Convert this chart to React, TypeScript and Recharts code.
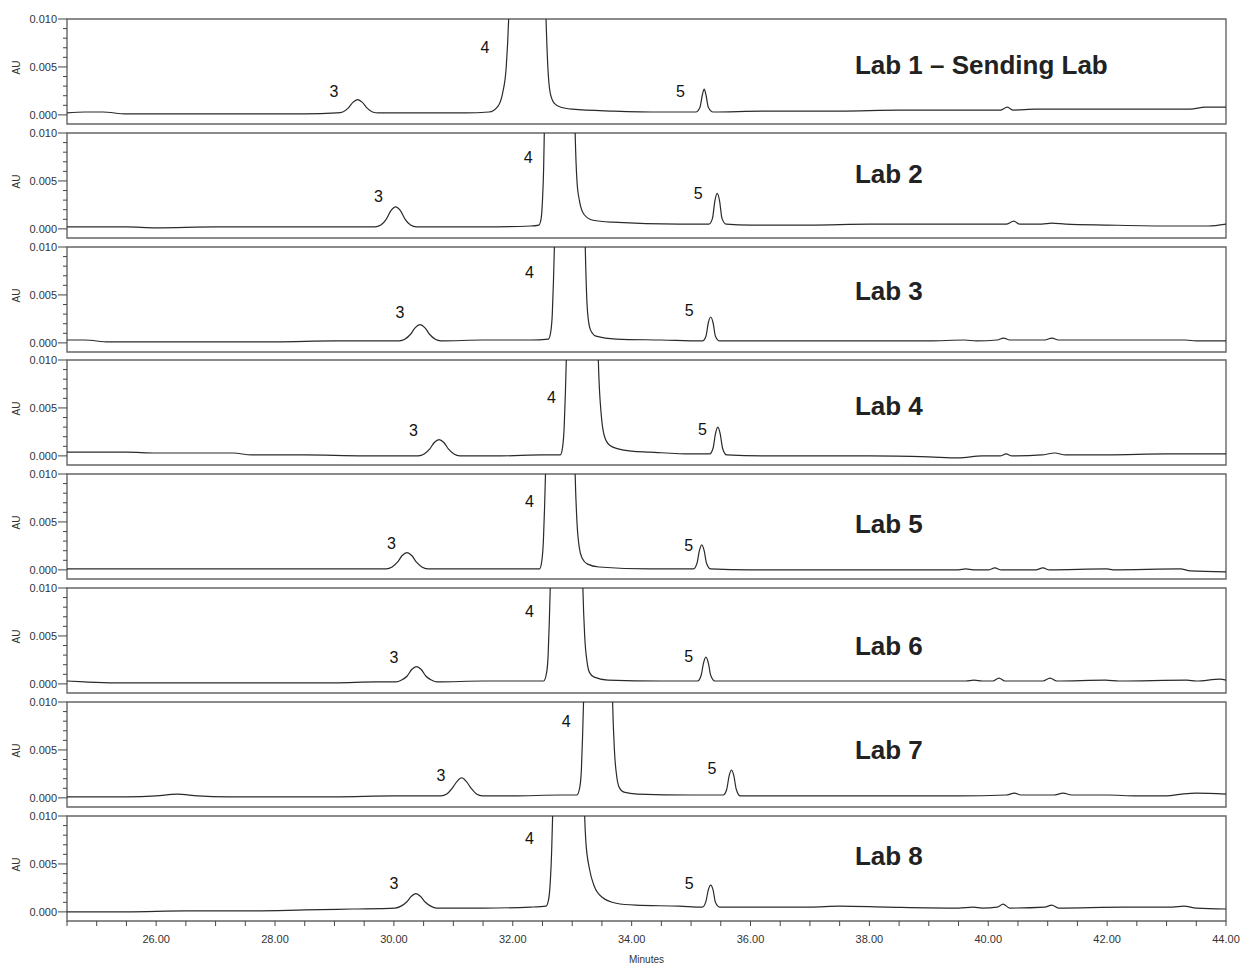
import React from 'react';
import { LineChart, Line, XAxis, YAxis, ReferenceArea, ReferenceDot, Label } from 'recharts';

// chromatogram traces, [minutes, AU]
const lab1Trace: [number, number][] = [
  [24.5, 0.0002], [24.8, 0.0003], [25.1, 0.0003], [25.5, 0.0001], [26.5, 0.0001], [27.5, 0.0001], [28.5, 0.0001],
  [29.04, 0.0002], [29.14, 0.0003], [29.23, 0.0007], [29.31, 0.0013], [29.39, 0.0016], [29.47, 0.0013], [29.55, 0.0007],
  [29.64, 0.0003], [29.74, 0.0002], [30.5, 0.0002], [31.2, 0.0002], [31.6, 0.0003], [31.75, 0.0009], [31.83, 0.0023],
  [31.89, 0.005], [31.93, 0.0099], [31.97, 0.02], [32.1, 0.05], [32.25, 0.06], [32.4, 0.05], [32.52, 0.02],
  [32.56, 0.0099], [32.59, 0.005], [32.63, 0.0023], [32.7, 0.0012], [32.81, 0.0008], [33.0, 0.0006], [33.7, 0.0004],
  [34.5, 0.0003], [35.08, 0.0003], [35.15, 0.0008], [35.19, 0.0021], [35.22, 0.0027], [35.25, 0.0021], [35.29, 0.0008],
  [35.37, 0.0003], [36.2, 0.0004], [37.5, 0.0004], [38.5, 0.0005], [39.5, 0.0005], [40.2, 0.0005], [40.32, 0.0008],
  [40.42, 0.0005], [40.8, 0.0006], [41.5, 0.0006], [42.5, 0.0006], [43.4, 0.0006], [43.65, 0.0008], [44.0, 0.0008],
];

const lab2Trace: [number, number][] = [
  [24.5, 0.0002], [25.5, 0.0002], [26, 0.0001], [27, 0.0002], [28, 0.0002], [29, 0.0002], [29.68, 0.0002],
  [29.78, 0.0004], [29.87, 0.001], [29.95, 0.0019], [30.03, 0.0023], [30.11, 0.0019], [30.19, 0.001], [30.28, 0.0004],
  [30.38, 0.0002], [31.5, 0.0002], [32.3, 0.0003], [32.44, 0.0004], [32.48, 0.0012], [32.5, 0.003], [32.52, 0.0065],
  [32.53, 0.0099], [32.56, 0.02], [32.65, 0.05], [32.79, 0.06], [32.93, 0.05], [33.02, 0.02], [33.05, 0.0099],
  [33.08, 0.005], [33.12, 0.003], [33.2, 0.0015], [33.35, 0.0009], [33.68, 0.0007], [34.8, 0.0005], [35.3, 0.0005],
  [35.36, 0.0011], [35.4, 0.0029], [35.44, 0.0037], [35.48, 0.0029], [35.52, 0.0011], [35.59, 0.0005], [36, 0.0004],
  [37, 0.0004], [38, 0.0005], [39, 0.0005], [40.3, 0.0005], [40.43, 0.0008], [40.53, 0.0005], [40.9, 0.0005],
  [41.07, 0.0006], [41.3, 0.0005], [42.0, 0.0004], [43.1, 0.0003], [43.7, 0.0003], [44.0, 0.0005],
];

const lab3Trace: [number, number][] = [
  [24.5, 0.0003], [24.8, 0.0003], [25.2, 0.0001], [26, 0.0001], [27, 0.0001], [28, 0.0001], [29, 0.0002],
  [30.09, 0.0002], [30.19, 0.0004], [30.28, 0.0009], [30.36, 0.0016], [30.44, 0.0019], [30.52, 0.0016], [30.6, 0.0009],
  [30.69, 0.0004], [30.79, 0.0002], [31.5, 0.0003], [32.3, 0.0003], [32.6, 0.0004], [32.64, 0.0012], [32.665, 0.003],
  [32.685, 0.0065], [32.7, 0.0099], [32.73, 0.02], [32.82, 0.05], [32.96, 0.06], [33.1, 0.05], [33.19, 0.02],
  [33.22, 0.0099], [33.25, 0.004], [33.29, 0.0017], [33.34, 0.001], [33.4, 0.0007], [33.74, 0.0004], [34.5, 0.0003],
  [35.19, 0.0002], [35.25, 0.0007], [35.29, 0.0021], [35.33, 0.0027], [35.37, 0.0021], [35.41, 0.0007], [35.48, 0.0002],
  [36, 0.0002], [37, 0.0002], [38, 0.0002], [39, 0.0002], [39.6, 0.0003], [39.8, 0.0002], [40.15, 0.0003],
  [40.26, 0.0005], [40.36, 0.0003], [40.95, 0.0003], [41.07, 0.0005], [41.18, 0.0003], [42.14, 0.0003],
  [43.32, 0.0003], [43.5, 0.0002], [44.0, 0.0002],
];

const lab4Trace: [number, number][] = [
  [24.5, 0.0004], [25, 0.0004], [25.5, 0.0004], [26, 0.0003], [26.5, 0.0003], [27, 0.0003], [27.3, 0.0003],
  [27.6, 0.0001], [28.5, 0.0001], [29.5, 0.0], [30.41, 0.0], [30.51, 0.0002], [30.6, 0.0007], [30.68, 0.0014],
  [30.76, 0.0017], [30.84, 0.0014], [30.92, 0.0007], [31.01, 0.0002], [31.11, 0.0], [31.8, 0.0], [32.5, 0.0001],
  [32.8, 0.0001], [32.84, 0.001], [32.865, 0.003], [32.885, 0.0065], [32.9, 0.0099], [32.93, 0.02], [33.02, 0.05],
  [33.17, 0.06], [33.32, 0.05], [33.41, 0.02], [33.44, 0.0099], [33.49, 0.0042], [33.54, 0.0021], [33.63, 0.0011],
  [33.79, 0.0007], [34.0, 0.0005], [34.3, 0.0004], [35.0, 0.0002], [35.31, 0.0002], [35.37, 0.0008], [35.41, 0.0023],
  [35.45, 0.003], [35.49, 0.0023], [35.53, 0.0008], [35.6, 0.0001], [36.2, 0.0], [37, 0.0], [38, 0.0], [39, -0.0001],
  [39.5, -0.0002], [39.9, 0.0], [40.2, 0.0], [40.3, 0.0002], [40.4, 0.0], [40.9, 0.0001], [41.12, 0.0003],
  [41.3, 0.0001], [42, 0.0001], [43, 0.0002], [43.5, 0.0002], [44.0, 0.0002],
];

const lab5Trace: [number, number][] = [
  [24.5, 0.0001], [26, 0.0001], [27, 0.0001], [28, 0.0001], [29, 0.0001], [29.87, 0.0001], [29.97, 0.0003],
  [30.06, 0.0008], [30.14, 0.0015], [30.22, 0.0018], [30.3, 0.0015], [30.38, 0.0008], [30.47, 0.0003], [30.57, 0.0001],
  [31.5, 0.0001], [32.3, 0.0001], [32.45, 0.0001], [32.49, 0.001], [32.515, 0.003], [32.535, 0.0065], [32.55, 0.0099],
  [32.58, 0.02], [32.67, 0.05], [32.8, 0.06], [32.93, 0.05], [33.02, 0.02], [33.05, 0.0099], [33.08, 0.005],
  [33.12, 0.0023], [33.17, 0.0012], [33.26, 0.0006], [33.45, 0.0003], [34.3, 0.0001], [35.04, 0.0001], [35.1, 0.0007],
  [35.14, 0.002], [35.18, 0.0026], [35.22, 0.002], [35.26, 0.0007], [35.33, 0.0001], [36, 0.0], [37, 0.0], [38, 0.0],
  [39, 0.0], [39.5, 0.0], [39.62, 0.0001], [39.75, 0.0], [40.0, 0.0], [40.11, 0.0002], [40.22, 0.0], [40.8, 0.0],
  [40.92, 0.0002], [41.03, 0.0], [42.0, 0.0001], [42.1, 0.0], [43.23, 0.0001], [43.4, -0.0001], [44.0, -0.0002],
];

const lab6Trace: [number, number][] = [
  [24.5, 0.0003], [24.8, 0.0002], [25.3, 0.0001], [26, 0.0001], [27, 0.0001], [28, 0.0001], [29, 0.0001],
  [29.7, 0.0002], [30.03, 0.0002], [30.13, 0.0004], [30.22, 0.0008], [30.3, 0.0015], [30.38, 0.0018], [30.46, 0.0015],
  [30.54, 0.0008], [30.63, 0.0004], [30.73, 0.0002], [31.5, 0.0003], [32.3, 0.0003], [32.52, 0.0003], [32.57, 0.0012],
  [32.595, 0.003], [32.615, 0.0065], [32.63, 0.0099], [32.66, 0.02], [32.76, 0.05], [32.9, 0.06], [33.05, 0.05],
  [33.15, 0.02], [33.18, 0.0099], [33.21, 0.005], [33.25, 0.0023], [33.29, 0.0012], [33.37, 0.0007], [33.6, 0.0004],
  [34.5, 0.0003], [35.11, 0.0003], [35.17, 0.0009], [35.21, 0.0022], [35.25, 0.0028], [35.29, 0.0022], [35.33, 0.0009],
  [35.4, 0.0003], [36, 0.0003], [37, 0.0003], [38, 0.0003], [39, 0.0003], [39.62, 0.0003], [39.76, 0.0004],
  [39.9, 0.0003], [40.08, 0.0003], [40.18, 0.0006], [40.28, 0.0003], [40.92, 0.0003], [41.04, 0.0006], [41.15, 0.0003],
  [41.97, 0.0004], [42.2, 0.0003], [43.34, 0.0004], [43.5, 0.0003], [43.9, 0.0005], [44.0, 0.0004],
];

const lab7Trace: [number, number][] = [
  [24.5, 0.0001], [25.5, 0.0001], [26.0, 0.0002], [26.35, 0.0004], [26.7, 0.0002], [27.2, 0.0001], [28, 0.0001],
  [29, 0.0001], [30, 0.0002], [30.79, 0.0002], [30.89, 0.0004], [30.98, 0.001], [31.06, 0.0017], [31.14, 0.0021],
  [31.22, 0.0017], [31.3, 0.001], [31.39, 0.0004], [31.49, 0.0002], [32, 0.0002], [32.8, 0.0003], [33.08, 0.0003],
  [33.13, 0.0012], [33.155, 0.003], [33.175, 0.0065], [33.19, 0.0099], [33.22, 0.02], [33.31, 0.05], [33.44, 0.06],
  [33.57, 0.05], [33.65, 0.02], [33.68, 0.0099], [33.71, 0.005], [33.75, 0.0022], [33.79, 0.0011], [33.87, 0.0006],
  [34.1, 0.0004], [35.0, 0.0003], [35.54, 0.0003], [35.6, 0.0009], [35.64, 0.0023], [35.68, 0.0029], [35.72, 0.0023],
  [35.76, 0.0009], [35.83, 0.0002], [36.5, 0.0002], [37.5, 0.0002], [38.5, 0.0002], [39.5, 0.0002], [40.3, 0.0003],
  [40.44, 0.0005], [40.55, 0.0003], [41.1, 0.0003], [41.26, 0.0005], [41.4, 0.0003], [42.0, 0.0003], [42.5, 0.0002],
  [43.0, 0.0002], [43.26, 0.0004], [43.5, 0.0005], [44.0, 0.0004],
];

const lab8Trace: [number, number][] = [
  [24.5, 0.0], [25.5, 0.0], [26.5, 0.0001], [27.5, 0.0001], [28.5, 0.0002], [29.3, 0.0003], [30.02, 0.0004],
  [30.12, 0.0006], [30.21, 0.001], [30.29, 0.0016], [30.37, 0.0019], [30.45, 0.0016], [30.53, 0.001], [30.62, 0.0006],
  [30.72, 0.0004], [31.5, 0.0004], [32.3, 0.0005], [32.56, 0.0006], [32.6, 0.0012], [32.63, 0.003], [32.655, 0.0065],
  [32.67, 0.0099], [32.7, 0.02], [32.8, 0.05], [32.94, 0.06], [33.08, 0.05], [33.18, 0.02], [33.21, 0.0099],
  [33.23, 0.0073], [33.29, 0.0045], [33.37, 0.0027], [33.51, 0.0015], [33.74, 0.0009], [34.07, 0.0007],
  [34.8, 0.0006], [35.19, 0.0005], [35.25, 0.0011], [35.29, 0.0023], [35.33, 0.0028], [35.37, 0.0023], [35.41, 0.001],
  [35.48, 0.0005], [36, 0.0005], [37, 0.0005], [37.5, 0.0006], [38.3, 0.0005], [39.5, 0.0004], [39.75, 0.0005],
  [39.9, 0.0004], [40.15, 0.0005], [40.25, 0.0008], [40.36, 0.0004], [40.95, 0.0005], [41.07, 0.0007], [41.18, 0.0004],
  [42.28, 0.0005], [43.1, 0.0005], [43.29, 0.0006], [43.5, 0.0004], [44.0, 0.0003],
];

// peak number tags: [text, minutes, AU] of the tag's centre
const lab1Tags: [string, number, number][] = [['3', 28.99, 0.0025], ['4', 31.53, 0.007], ['5', 34.82, 0.0025]];
const lab2Tags: [string, number, number][] = [['3', 29.74, 0.0034], ['4', 32.26, 0.0075], ['5', 35.12, 0.0037]];
const lab3Tags: [string, number, number][] = [['3', 30.1, 0.0032], ['4', 32.28, 0.0074], ['5', 34.97, 0.0034]];
const lab4Tags: [string, number, number][] = [['3', 30.33, 0.0027], ['4', 32.65, 0.0061], ['5', 35.19, 0.0028]];
const lab5Tags: [string, number, number][] = [['3', 29.96, 0.0028], ['4', 32.28, 0.0071], ['5', 34.96, 0.0026]];
const lab6Tags: [string, number, number][] = [['3', 30.0, 0.0028], ['4', 32.28, 0.0076], ['5', 34.96, 0.0029]];
const lab7Tags: [string, number, number][] = [['3', 30.79, 0.0024], ['4', 32.9, 0.008], ['5', 35.35, 0.0031]];
const lab8Tags: [string, number, number][] = [['3', 30.0, 0.003], ['4', 32.28, 0.0077], ['5', 34.97, 0.003]];

const labNames = ['Lab 1 – Sending Lab', 'Lab 2', 'Lab 3', 'Lab 4', 'Lab 5', 'Lab 6', 'Lab 7', 'Lab 8'];
const nameLevels = [0.0052, 0.0057, 0.0054, 0.0052, 0.0048, 0.004, 0.005, 0.0059];
const nameStart = 37.74;

const xTicks = [
  24.5, 25, 25.5, 26, 26.5, 27, 27.5, 28, 28.5, 29, 29.5, 30, 30.5, 31, 31.5, 32, 32.5, 33, 33.5, 34,
  34.5, 35, 35.5, 36, 36.5, 37, 37.5, 38, 38.5, 39, 39.5, 40, 40.5, 41, 41.5, 42, 42.5, 43, 43.5, 44,
];
const xLabelled = [26, 28, 30, 32, 34, 36, 38, 40, 42, 44];
const yTicks = [0, 0.001, 0.002, 0.003, 0.004, 0.005, 0.006, 0.007, 0.008, 0.009, 0.01];
const yLabelled = [0, 0.005, 0.01];

const traces = [lab1Trace, lab2Trace, lab3Trace, lab4Trace, lab5Trace, lab6Trace, lab7Trace, lab8Trace];
const tags = [lab1Tags, lab2Tags, lab3Tags, lab4Tags, lab5Tags, lab6Tags, lab7Tags, lab8Tags];

const FONT = '"Liberation Sans", Arial, Helvetica, sans-serif';
const W = 1243;
const PLOT_TOP = 19;
const PITCH = 113.8;
const PLOT_H = 105;
const PAD = 10;
const X_DOMAIN: [number, number] = [24.5, 44];
const Y_DOMAIN: [number, number] = [-0.00095, 0.01];

const YTick = (props: any) => {
  const { x, y, payload } = props;
  const major = yLabelled.includes(payload.value);
  return (
    <g>
      <line x1={x - (major ? 9 : 4)} x2={x} y1={y} y2={y} stroke="#444" strokeWidth={1} />
      {major && (
        <text x={x - 10} y={y} dy={4} textAnchor="end" fontSize={11} fill="#333" fontFamily={FONT}>
          {payload.value.toFixed(3)}
        </text>
      )}
    </g>
  );
};

const XTick = (props: any) => {
  const { x, y, payload } = props;
  const major = xLabelled.includes(payload.value);
  return (
    <g>
      <line x1={x} x2={x} y1={y} y2={y + 5} stroke="#444" strokeWidth={1} />
      {major && (
        <text x={x} y={y + 22} textAnchor="middle" fontSize={11} fill="#333" fontFamily={FONT}>
          {payload.value.toFixed(2)}
        </text>
      )}
    </g>
  );
};

const AuLabel = (props: any) => {
  const { viewBox } = props;
  const x = viewBox.x + 16;
  const y = viewBox.y + viewBox.height / 2 - 4;
  return (
    <text x={x} y={y} transform={`rotate(-90, ${x}, ${y})`} textAnchor="middle" dy={4} fontSize={10} fill="#333" fontFamily={FONT}>
      AU
    </text>
  );
};

const Panel = ({ index }: { index: number }) => {
  const last = index === traces.length - 1;
  const data = traces[index].map(([t, v]) => ({ t, v }));
  const axisH = last ? 46 : 0;
  const bottom = last ? 0 : 6;
  const top = Math.round(PLOT_TOP + index * PITCH) - PAD;

  return (
    <div style={{ position: 'absolute', left: 0, top }}>
      <LineChart width={W} height={PAD + PLOT_H + axisH + bottom} data={data} margin={{ top: PAD, right: 17, bottom, left: 0 }}>
        <XAxis
          dataKey="t"
          type="number"
          domain={X_DOMAIN}
          allowDataOverflow
          hide={!last}
          height={axisH}
          ticks={xTicks}
          interval={0}
          tick={<XTick />}
          tickLine={false}
          tickSize={0}
          tickMargin={0}
          axisLine={false}
        >
          {last && <Label value="Minutes" position="insideBottom" offset={4} fontSize={10} fill="#333" fontFamily={FONT} />}
        </XAxis>
        <YAxis
          type="number"
          domain={Y_DOMAIN}
          allowDataOverflow
          width={67}
          ticks={yTicks}
          interval={0}
          tick={<YTick />}
          tickLine={false}
          tickSize={0}
          tickMargin={0}
          axisLine={false}
        >
          <Label content={<AuLabel />} />
        </YAxis>
        <ReferenceArea
          x1={X_DOMAIN[0]}
          x2={X_DOMAIN[1]}
          y1={Y_DOMAIN[0]}
          y2={Y_DOMAIN[1]}
          fill="none"
          stroke="#666"
          strokeWidth={1.4}
          fillOpacity={0}
        />
        <Line
          type="monotone"
          dataKey="v"
          stroke="#2a2a2a"
          strokeWidth={1.2}
          dot={false}
          isAnimationActive={false}
        />
        {tags[index].map(([text, t, v]) => (
          <ReferenceDot
            key={text}
            x={t}
            y={v}
            r={1}
            fill="none"
            stroke="none"
            label={{ value: text, position: 'center', fontSize: 16, fill: '#111', fontFamily: FONT }}
          />
        ))}
        <ReferenceDot
          x={nameStart}
          y={nameLevels[index]}
          r={1}
          fill="none"
          stroke="none"
          label={{
            value: labNames[index],
            position: 'right',
            offset: 0,
            fontSize: 26,
            fontWeight: 'bold',
            fill: '#222',
            fontFamily: FONT,
          }}
        />
      </LineChart>
    </div>
  );
}

export default function App() {
  return (
    <div style={{ position: 'absolute', left: 0, top: 0, width: W, height: 968, background: '#fff', fontFamily: FONT }}>
      {traces.map((_, i) => (
        <Panel key={i} index={i} />
      ))}
    </div>
  );
}
